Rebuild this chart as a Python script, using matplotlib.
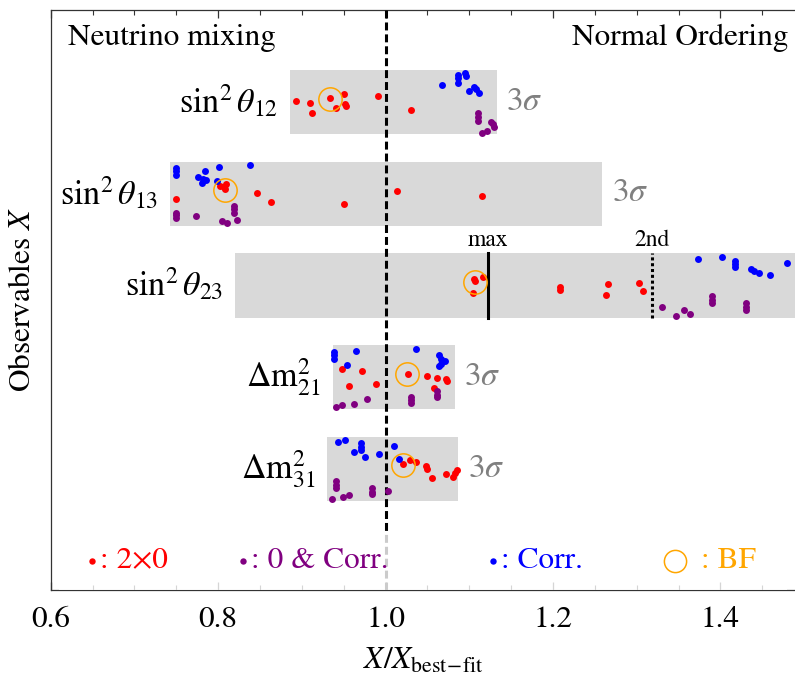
import matplotlib
matplotlib.use("Agg")
import matplotlib.pyplot as plt
from matplotlib.ticker import MultipleLocator

plt.rcParams['font.family'] = ['STIXGeneral', 'DejaVu Serif']
plt.rcParams['mathtext.fontset'] = 'stix'

# ---------------- data ----------------
obs_labels = [r"$\mathrm{sin}^2\,\theta_{12}$", r"$\mathrm{sin}^2\,\theta_{13}$",
              r"$\mathrm{sin}^2\,\theta_{23}$", r"$\Delta\mathrm{m}^2_{21}$",
              r"$\Delta\mathrm{m}^2_{31}$"]
rows = [5, 4, 3, 2, 1]
# 3 sigma ranges (X / X_best-fit)
sig_lo = [0.886, 0.7427, 0.8204, 0.937, 0.9305]
sig_hi = [1.1326, 1.259, 1.52, 1.0824, 1.0869]
show_3s = [True, True, False, True, True]

# points: (X/Xbf, vertical jitter inside row)
s12_red = [(0.8926, 0.014), (0.9093, -0.008), (0.9122, -0.117), (0.9333, 0.040), (0.9413, -0.069),
           (0.9508, 0.084), (0.9517, -0.025), (0.9524, -0.044), (0.9911, 0.062), (1.0301, -0.090)]
s12_blue = [(1.0672, 0.182), (1.0860, 0.294), (1.0868, 0.258), (1.0868, 0.204), (1.0952, 0.319),
            (1.0964, 0.283), (1.0995, 0.123), (1.1055, 0.160), (1.1075, 0.138), (1.1120, 0.101)]
s12_purple = [(1.1103, -0.123), (1.1103, -0.160), (1.1103, -0.204), (1.1255, -0.221), (1.1287, -0.243),
              (1.1294, -0.269), (1.1215, -0.313), (1.1156, -0.335)]

s13_red = [(0.8025, 0.085), (0.8097, 0.107), (0.8085, 0.049), (0.8065, 0.071), (0.7495, -0.052),
           (0.8459, 0.013), (0.8635, -0.085), (0.9500, -0.107), (1.0134, 0.031), (1.1156, -0.024)]
s13_blue = [(0.7499, 0.286), (0.7499, 0.249), (0.7499, 0.205), (0.8005, 0.296), (0.8384, 0.318),
            (0.7842, 0.253), (0.7758, 0.187), (0.7825, 0.166), (0.7849, 0.150), (0.7806, 0.118),
            (0.7986, 0.144)]
s13_purple = [(0.7499, -0.205), (0.7499, -0.234), (0.7499, -0.267), (0.7738, -0.238), (0.8193, -0.133),
              (0.8193, -0.169), (0.8193, -0.205), (0.8220, -0.281), (0.8041, -0.300), (0.8105, -0.322)]

s23_red = [(1.1055, 0.073), (1.1067, 0.047), (1.1159, 0.090), (1.1043, -0.080), (1.2080, -0.014),
           (1.2080, -0.044), (1.2658, 0.011), (1.2627, -0.101), (1.3029, 0.029), (1.3073, -0.062)]
s23_blue = [(1.3727, 0.291), (1.4018, 0.313), (1.4174, 0.265), (1.4174, 0.229), (1.4174, 0.204),
            (1.4365, 0.182), (1.4404, 0.163), (1.4457, 0.138), (1.4592, 0.117), (1.4796, 0.247)]
s23_purple = [(1.3304, -0.232), (1.3464, -0.335), (1.3567, -0.272), (1.3639, -0.308), (1.3895, -0.117),
              (1.3895, -0.160), (1.3895, -0.196), (1.4309, -0.196), (1.4309, -0.232), (1.4309, -0.262)]

m21_red = [(0.9476, 0.087), (0.9724, 0.065), (0.9565, -0.095), (0.9888, -0.069), (1.0266, 0.040),
           (1.0489, 0.014), (1.0612, -0.003), (1.0725, -0.014), (1.0729, -0.044), (1.0573, -0.112)]
m21_blue = [(0.9389, 0.276), (0.9389, 0.240), (0.9389, 0.204), (0.9652, 0.291), (0.9541, 0.138),
            (1.0358, 0.313), (1.0636, 0.247), (1.0657, 0.196), (1.0705, 0.182), (1.0636, 0.123),
            (1.0657, 0.149)]
m21_purple = [(0.9404, -0.324), (0.9476, -0.305), (0.9624, -0.287), (0.9783, -0.240), (1.0306, -0.215),
              (1.0306, -0.251), (1.0306, -0.280), (1.0612, -0.153), (1.0612, -0.189), (1.0612, -0.218)]

m31_red = [(1.0211, 0.051), (1.0289, 0.098), (1.0358, 0.073), (1.0481, 0.036), (1.0489, 0.0),
           (1.0557, -0.101), (1.0725, -0.058), (1.0809, -0.084), (1.0848, -0.011), (1.0833, -0.040)]
m31_blue = [(0.9428, 0.291), (0.9517, 0.316), (0.9708, 0.280), (0.9708, 0.243), (0.9708, 0.207),
            (0.9620, 0.182), (0.9756, 0.134), (0.9919, 0.160), (1.0106, 0.247), (1.0163, 0.109)]
m31_purple = [(0.9404, -0.131), (0.9404, -0.174), (0.9404, -0.210), (0.9361, -0.327), (0.9493, -0.302),
              (0.9560, -0.283), (0.9843, -0.210), (0.9843, -0.247), (0.9843, -0.276), (1.0026, -0.240)]

red_sets = [s12_red, s13_red, s23_red, m21_red, m31_red]
blue_sets = [s12_blue, s13_blue, s23_blue, m21_blue, m31_blue]
purple_sets = [s12_purple, s13_purple, s23_purple, m21_purple, m31_purple]

# best-fit markers (X/Xbf, jitter)
bf_x = [0.9333, 0.8085, 1.1067, 1.0258, 1.0211]
bf_dy = [0.029, 0.041, 0.040, 0.040, 0.044]

# theta23 maxima
max_x = 1.1223
second_x = 1.3177

legend_labels = [": 2\u00d70", ": 0 & Corr.", ": Corr.", ": BF"]
legend_x = [0.6494, 0.830, 1.1278, 1.3455]
legend_text_x = [0.659, 0.8397, 1.1375, 1.3765]

RED = (1, 0, 0)
PURPLE = (0.5, 0, 0.5)
BLUE = (0, 0, 1)
ORANGE = (1.0, 0.65, 0.0)
GRAY_BOX = (0.85, 0.85, 0.85)
FS = 22.5

# ---------------- figure ----------------
fig = plt.figure(figsize=(7.95, 6.75), dpi=100)
ax = fig.add_axes([50.7 / 795, 85 / 675, (795 - 50.7) / 795, 580 / 675])
ax.set_xlim(0.6, 1.489)
ax.set_ylim(-0.319, 6.003)

half = 0.35
for i, r in enumerate(rows):
    ax.fill_between([sig_lo[i], sig_hi[i]], r - half, r + half, color=GRAY_BOX, lw=0, zorder=1)
    ax.annotate(obs_labels[i], xy=(sig_lo[i], r), xytext=(-8.6, 0), textcoords='offset points',
                ha='right', va='center', fontsize=24.5, zorder=5)
    if show_3s[i]:
        ax.annotate(r"3$\sigma$", xy=(sig_hi[i], r), xytext=(7.0, 0), textcoords='offset points',
                    ha='left', va='center', fontsize=24, color=(0.5, 0.5, 0.5), zorder=5)

for sets, col in [(red_sets, RED), (purple_sets, PURPLE), (blue_sets, BLUE)]:
    for i, r in enumerate(rows):
        xs = [p[0] for p in sets[i]]
        ys = [r + p[1] for p in sets[i]]
        ax.scatter(xs, ys, s=25, color=col, linewidths=0, zorder=4)

ax.plot(bf_x, [r + d for r, d in zip(rows, bf_dy)], ls='none', marker='o', ms=16.8,
        mfc='none', mec=ORANGE, mew=1.1, zorder=6)

# theta23 max / 2nd lines
ax.plot([max_x, max_x], [3 - half, 3 + half], color='black', lw=2.2, zorder=5)
ax.plot([second_x, second_x], [3 - half, 3 + half], color='black', lw=2.2,
        ls=(0, (1.0, 0.9)), zorder=5)
ax.text(max_x, 3 + half + 0.03, "max", ha='center', va='bottom', fontsize=17)
ax.text(second_x, 3 + half + 0.03, "2nd", ha='center', va='bottom', fontsize=17)

# x = 1 reference line
ax.axvline(1.0, color='black', lw=2.2, ls=(0, (2.6, 1.3)), zorder=3)

# legend band
ax.fill_between([0.61, 1.48], -0.32, 0.30, color='white', alpha=0.8, lw=0, zorder=3.5)
leg_cols = [RED, PURPLE, BLUE, ORANGE]
for j in range(4):
    if j < 3:
        ax.plot([legend_x[j]], [0.0], 'o', ms=4.6, color=leg_cols[j], mew=0, zorder=6)
    else:
        ax.plot([legend_x[j]], [0.0], 'o', ms=16, mfc='none', mec=ORANGE, mew=1.1, zorder=6)
    ax.text(legend_text_x[j], 0.0, legend_labels[j], color=leg_cols[j], fontsize=FS,
            ha='left', va='center', zorder=6)

ax.text(0.0232, 0.9517, "Neutrino mixing", transform=ax.transAxes, fontsize=FS,
        ha='left', va='center')
ax.text(0.9906, 0.9517, "Normal Ordering", transform=ax.transAxes, fontsize=FS,
        ha='right', va='center')

# axes styling
ax.xaxis.set_major_locator(MultipleLocator(0.2))
ax.xaxis.set_minor_locator(MultipleLocator(0.05))
ax.set_xticks([0.6, 0.8, 1.0, 1.2, 1.4])
ax.set_xticklabels(["0.6", "0.8", "1.0", "1.2", "1.4"])
ax.tick_params(axis='x', which='both', direction='in', top=True, bottom=True,
               labelsize=FS, color='#333333', pad=12)
ax.tick_params(axis='x', which='major', length=6, width=0.9)
ax.tick_params(axis='x', which='minor', length=3.5, width=0.8)
ax.tick_params(axis='y', which='both', left=False, labelleft=False)
for sp in ['left', 'bottom', 'top']:
    ax.spines[sp].set_color('#333333')
    ax.spines[sp].set_linewidth(0.9)
ax.spines['right'].set_visible(False)

ax.set_xlabel(r"$X/X_{\mathrm{best\!-\!fit}}$", fontsize=FS, labelpad=9)
fig.text(23 / 795, 1 - 300 / 675, r"Observables $X$", rotation=90, fontsize=FS,
         ha='center', va='center')

fig.savefig("out.png", dpi=100)
